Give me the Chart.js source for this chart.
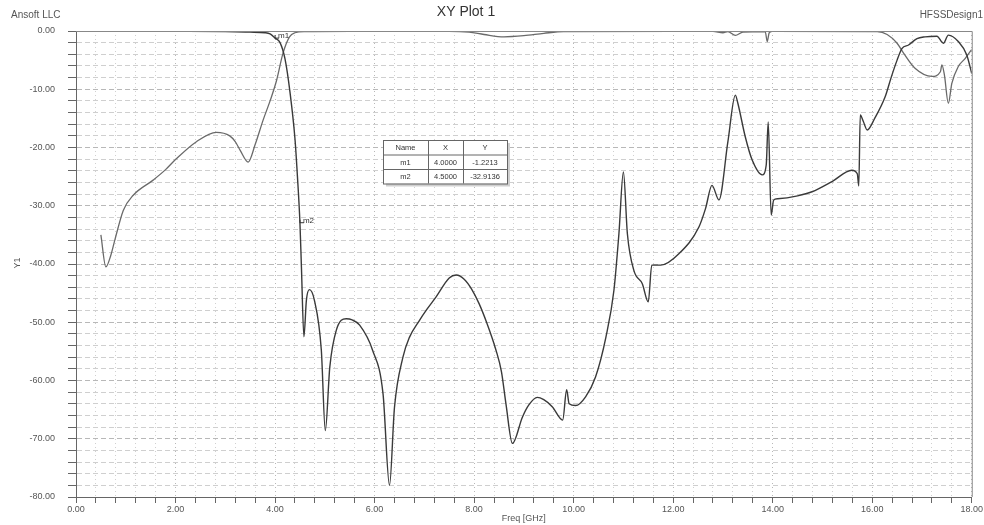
<!DOCTYPE html>
<html>
<head>
<meta charset="utf-8">
<script src="https://cdn.jsdelivr.net/npm/chart.js@4.4.1/dist/chart.umd.min.js"></script>
<style>
  html, body { margin: 0; padding: 0; background: #fff; }
  #wrap { width: 984px; height: 525px; position: relative; }
</style>
</head>
<body>
<div id="wrap"><canvas id="xyplot"></canvas></div>
<script>
// curva que cai em 4 GHz (transmissão)
const freqS21 = [0.5, 1.0, 2.0, 3.0, 3.5, 3.8, 3.9, 4.0, 4.1, 4.2, 4.3, 4.4, 4.45, 4.5, 4.53, 4.58, 4.63, 4.69, 4.79, 4.93,
  5.01, 5.1, 5.23, 5.43, 5.55, 5.7, 5.96, 6.17, 6.3, 6.4, 6.57, 6.7, 6.9, 7.05, 7.24, 7.5, 7.64, 7.8, 7.95, 8.1,
  8.25, 8.44, 8.55, 8.64, 8.77, 8.97, 9.1, 9.27, 9.4, 9.57, 9.78, 9.86, 9.91, 10.04, 10.24, 10.44, 10.65, 10.81, 10.91, 11.0,
  11.08, 11.21, 11.38, 11.5, 11.57, 11.75, 12.12, 12.52, 12.65, 12.78, 12.92, 13.1, 13.25, 13.3, 13.45, 13.59, 13.79, 13.87, 13.91, 13.97,
  14.02, 14.1, 14.5, 14.79, 15.2, 15.59, 15.7, 15.73, 15.76, 15.82, 15.9, 16.05, 16.26, 16.38, 16.5, 16.6, 16.73, 16.9, 17.06, 17.3,
  17.43, 17.53, 17.73, 17.9, 18.0];
const dbS21 = [-0.05, -0.03, -0.05, -0.1, -0.2, -0.3, -0.5, -1.22, -2.0, -4.8, -10.5, -18.5, -25, -32.91, -40.5, -52.5, -46.2, -44.4, -46.2, -54.8,
  -68.6, -57.7, -51.4, -49.4, -49.6, -50.5, -54.8, -62.3, -78, -64.6, -56, -52.6, -49.7, -47.8, -45.6, -42.4, -41.9, -42.6, -44.3, -46.8,
  -50, -54.8, -58.5, -64, -70.8, -66.3, -64.2, -62.9, -63.3, -64.5, -66.8, -61.6, -64, -64.3, -62.8, -59.4, -52.5, -44.5, -34.8, -24.2,
  -34.8, -41.1, -43.4, -46.5, -40.2, -40.2, -38.2, -33.6, -30.5, -26.5, -29, -19, -11, -12.4, -18.2, -22.2, -24.7, -23, -15.6, -31.6,
  -29, -28.8, -28.3, -27.6, -25.8, -23.9, -24.5, -26.6, -14.4, -15.5, -17, -15, -11.3, -8, -5, -3, -2.4, -1.3, -1, -0.9,
  -2.1, -0.7, -1.8, -4.1, -7.3];

// curva de reflexão
const freqS11 = [0.5, 0.6, 0.7, 0.78, 0.95, 1.15, 1.55, 1.8, 2.02, 2.42, 2.82, 3.09, 3.2, 3.3, 3.46, 3.6, 3.76, 3.9, 4.03, 4.16,
  4.29, 4.4, 4.6, 5.5, 7.5, 7.9, 8.2, 8.6, 9.0, 9.4, 9.8, 12.8, 13.0, 13.1, 13.25, 13.4, 13.85, 13.89, 13.93, 14.0,
  16.1, 16.3, 16.5, 16.63, 16.86, 17.2, 17.37, 17.4, 17.45, 17.53, 17.6, 17.73, 17.87, 17.97, 18.0];
const dbS11 = [-35, -40.5, -38.5, -35.9, -30.8, -28.2, -25.6, -23.8, -21.9, -19, -17.4, -18, -19, -20.5, -22.5, -19.5, -15.3, -12, -8.5, -3.8,
  -1, -0.3, -0.1, -0.05, -0.05, -0.2, -0.6, -1.0, -0.8, -0.4, -0.1, -0.05, -0.3, -0.1, -0.75, -0.2, -0.1, -1.8, -0.3, -0.05,
  -0.1, -0.6, -2.1, -3.8, -6.4, -7.8, -7, -5.8, -7.5, -12.4, -9, -6.1, -4.7, -3.5, -3.2];

// marcadores
const markerNames = ['m1', 'm2'];
const markerX = [4.0, 4.5];
const markerY = [-1.2213, -32.9136];

const xMin = 0, xMax = 18, xStep = 0.4;
const yMin = -80, yMax = 0, yStep = 2;

function isMajor(v, step) {
    return Math.abs(v / step - Math.round(v / step)) < 1e-6;
}

function toPoints(xs, ys) {
    return xs.map((x, i) => ({ x: x, y: ys[i] }));
}

// textos, moldura e tabela dos marcadores
const hfssDecor = {
    id: 'hfssDecor',
    afterDraw(chart) {
        const ctx = chart.ctx;
        const area = chart.chartArea;
        const xs = chart.scales.x;
        const ys = chart.scales.y;
        ctx.save();

        // moldura superior e direita
        ctx.strokeStyle = '#888';
        ctx.lineWidth = 1;
        ctx.beginPath();
        ctx.moveTo(area.left, area.top + 0.5);
        ctx.lineTo(area.right + 0.5, area.top + 0.5);
        ctx.lineTo(area.right + 0.5, area.bottom);
        ctx.stroke();

        ctx.fillStyle = '#333';
        ctx.textBaseline = 'middle';
        ctx.font = '14px "Liberation Sans", Arial, sans-serif';
        ctx.textAlign = 'center';
        ctx.fillText('XY Plot 1', 466, 12);

        ctx.font = '10px "Liberation Sans", Arial, sans-serif';
        ctx.fillStyle = '#555';
        ctx.textAlign = 'left';
        ctx.fillText('Ansoft LLC', 11, 15);
        ctx.textAlign = 'right';
        ctx.fillText('HFSSDesign1', 983, 15);

        ctx.textAlign = 'center';
        ctx.font = '9px "Liberation Sans", Arial, sans-serif';
        ctx.fillText('Freq [GHz]', (area.left + area.right) / 2, 519);

        ctx.save();
        ctx.translate(18, 263);
        ctx.rotate(-Math.PI / 2);
        ctx.fillText('Y1', 0, 0);
        ctx.restore();

        // rótulos dos marcadores
        ctx.font = '8px "Liberation Sans", Arial, sans-serif';
        ctx.textAlign = 'left';
        ctx.strokeStyle = '#333';
        for (let i = 0; i < markerNames.length; i++) {
            const px = xs.getPixelForValue(markerX[i]);
            const py = ys.getPixelForValue(markerY[i]);
            ctx.beginPath();
            ctx.moveTo(px, py - 3);
            ctx.lineTo(px, py);
            ctx.lineTo(px + 4, py);
            ctx.stroke();
            ctx.fillStyle = '#333';
            ctx.fillText(markerNames[i], px + 3, py - 2);
        }

        // tabela
        const tx = 383, ty = 140, cols = [45, 35, 44], rowH = 14.5;
        const tw = cols[0] + cols[1] + cols[2], th = rowH * 3;
        ctx.fillStyle = '#cfcfcf';
        ctx.fillRect(tx + 3, ty + 3, tw, th);
        ctx.fillStyle = '#fff';
        ctx.fillRect(tx, ty, tw, th);
        ctx.strokeStyle = '#666';
        ctx.lineWidth = 1;
        ctx.strokeRect(tx + 0.5, ty + 0.5, tw, th);
        ctx.beginPath();
        for (let r = 1; r < 3; r++) {
            ctx.moveTo(tx, ty + r * rowH + 0.5);
            ctx.lineTo(tx + tw, ty + r * rowH + 0.5);
        }
        ctx.moveTo(tx + cols[0] + 0.5, ty);
        ctx.lineTo(tx + cols[0] + 0.5, ty + th);
        ctx.moveTo(tx + cols[0] + cols[1] + 0.5, ty);
        ctx.lineTo(tx + cols[0] + cols[1] + 0.5, ty + th);
        ctx.stroke();

        const rows = [['Name', 'X', 'Y']];
        for (let i = 0; i < markerNames.length; i++) {
            rows.push([markerNames[i], markerX[i].toFixed(4), markerY[i].toFixed(4)]);
        }
        ctx.fillStyle = '#333';
        ctx.font = '7.5px "Liberation Sans", Arial, sans-serif';
        ctx.textAlign = 'center';
        rows.forEach((row, r) => {
            let cx = tx;
            row.forEach((cell, c) => {
                ctx.fillText(cell, cx + cols[c] / 2, ty + r * rowH + rowH / 2 + 1);
                cx += cols[c];
            });
        });

        ctx.restore();
    }
};

const graficoXY = document.getElementById('xyplot').getContext('2d');
const chartXY = new Chart(graficoXY, {
    type: 'line',
    data: {
        datasets: [{
            label: 'dB(S(2,1))',
            data: toPoints(freqS21, dbS21),
            borderColor: '#3a3a3a',
            borderWidth: 1.4,
            pointRadius: 0,
            cubicInterpolationMode: 'monotone'
        }, {
            label: 'dB(S(1,1))',
            data: toPoints(freqS11, dbS11),
            borderColor: '#6a6a6a',
            borderWidth: 1.3,
            pointRadius: 0,
            cubicInterpolationMode: 'monotone'
        }]
    },
    options: {
        responsive: true,
        maintainAspectRatio: false,
        animation: false,
        layout: {
            padding: { top: 31, right: 11, left: 0, bottom: 0 }
        },
        plugins: {
            legend: { display: false },
            tooltip: { enabled: false },
            title: { display: false }
        },
        scales: {
            x: {
                type: 'linear',
                min: xMin,
                max: xMax,
                afterFit: (scale) => { scale.height = 28; },
                ticks: {
                    stepSize: xStep,
                    autoSkip: false,
                    maxRotation: 0,
                    padding: 1,
                    color: '#555',
                    font: { family: '"Liberation Sans", Arial, sans-serif', size: 9 },
                    callback: (v) => isMajor(v, 2) ? Number(v).toFixed(2) : ''
                },
                grid: {
                    color: (c) => isMajor(c.tick.value, 2) ? '#b8b8b8' : '#d0d0d0',
                    tickColor: '#666',
                    tickLength: 6,
                    lineWidth: 1
                },
                border: { color: '#666', width: 1, dash: [1, 3] }
            },
            y: {
                min: yMin,
                max: yMax,
                afterFit: (scale) => { scale.width = 76; },
                ticks: {
                    stepSize: yStep,
                    autoSkip: false,
                    padding: 13,
                    color: '#555',
                    font: { family: '"Liberation Sans", Arial, sans-serif', size: 9 },
                    callback: (v) => isMajor(v, 10) ? Number(v).toFixed(2) : ''
                },
                grid: {
                    color: (c) => isMajor(c.tick.value, 10) ? '#b8b8b8' : '#cfcfcf',
                    tickColor: '#666',
                    tickLength: 8,
                    lineWidth: 1
                },
                border: { color: '#666', width: 1, dash: [5, 3] }
            }
        }
    },
    plugins: [hfssDecor]
});
</script>
</body>
</html>
